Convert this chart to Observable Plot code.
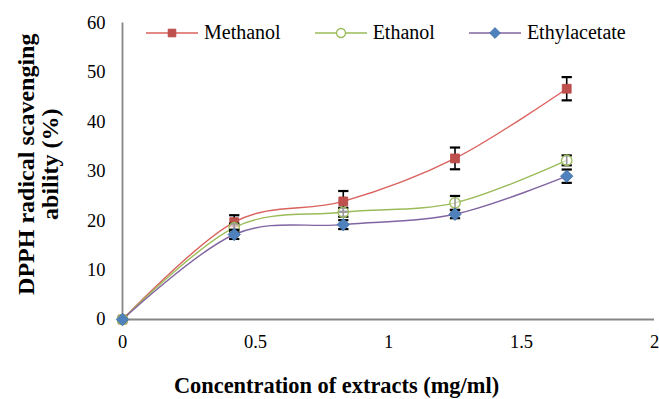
<!DOCTYPE html>
<html>
<head>
<meta charset="utf-8">
<script src="https://cdn.jsdelivr.net/npm/d3@7"></script>
<script src="https://cdn.jsdelivr.net/npm/@observablehq/plot@0.6"></script>
<style>
  html, body { margin: 0; padding: 0; background: #fff; }
  #wrap { position: relative; width: 659px; height: 399px; font-family: "Liberation Serif", "Times New Roman", serif; }
  #wrap svg text, #wrap svg g { font-family: "Liberation Serif", "Times New Roman", serif !important; }
  #legend { position: absolute; left: 146px; top: 21px; display: flex; align-items: center; font-size: 20px; color: #000; }
  .item { display: flex; align-items: center; margin-right: 34px; }
  .item svg { margin-right: 6px; }
</style>
</head>
<body>
<div id="wrap"><div id="legend"></div></div>
<script>
const concentrations = [0, 0.42, 0.83, 1.25, 1.67];
const seriesNames = ["Methanol", "Ethanol", "Ethylacetate"];
const methanol = [0, 19.7, 23.9, 32.6, 46.7];
const methanolErr = [0, 1.4, 2.1, 2.2, 2.35];
const ethanol = [0, 18.6, 21.7, 23.6, 32.2];
const ethanolErr = [0, 0.8, 0.9, 1.4, 1.0];
const ethylacetate = [0, 17.2, 19.2, 21.3, 29.0];
const ethylacetateErr = [0, 0.9, 0.9, 0.8, 1.35];
const xTicks = [0, 0.5, 1, 1.5, 2];
const yTicks = [0, 10, 20, 30, 40, 50, 60];

const serif = "'Liberation Serif', 'Times New Roman', serif";
const styles = {
  Methanol: {line: "#D9625E", stroke: "#B5443F", fill: "#C0504D", symbol: "square", r: 5},
  Ethanol: {line: "#9BBB59", stroke: "#9BBB59", fill: "rgba(255,255,255,0.6)", symbol: "circle", r: 5.2},
  Ethylacetate: {line: "#8064A2", stroke: "#3F6FA8", fill: "#4F81BD", symbol: "diamond2", r: 5.6}
};

const valuesBy = {Methanol: methanol, Ethanol: ethanol, Ethylacetate: ethylacetate};
const errBy = {Methanol: methanolErr, Ethanol: ethanolErr, Ethylacetate: ethylacetateErr};
const rows = seriesNames.flatMap(s => concentrations.map((c, i) => ({
  series: s, x: c, y: valuesBy[s][i], lo: valuesBy[s][i] - errBy[s][i], hi: valuesBy[s][i] + errBy[s][i], err: errBy[s][i]
})));

const capSymbol = {draw(ctx, size) { const w = Math.sqrt(size); ctx.moveTo(-w / 2, 0); ctx.lineTo(w / 2, 0); }};

const marks = [
  Plot.ruleY([0], {stroke: "#868686", strokeWidth: 1.8}),
  Plot.ruleX([0], {stroke: "#868686", strokeWidth: 1.8}),
  Plot.axisX({ticks: xTicks, tickSize: 0, tickPadding: 15, tickFormat: d => String(d), label: null, fontFamily: serif, fontSize: 18.5}),
  Plot.axisY({ticks: yTicks, tickSize: 0, tickPadding: 17, label: null, fontFamily: serif, fontSize: 18.5}),
];
for (const s of seriesNames) {
  const st = styles[s];
  const data = rows.filter(d => d.series === s);
  marks.push(Plot.line(data, {x: "x", y: "y", stroke: st.line, strokeWidth: 1.4, curve: "cardinal"}));
}
for (const s of seriesNames) {
  const st = styles[s];
  const data = rows.filter(d => d.series === s && d.err > 0);
  marks.push(Plot.ruleX(data, {x: "x", y1: "lo", y2: "hi", stroke: "#000", strokeWidth: 1.6}));
  marks.push(Plot.dot(data, {x: "x", y: "lo", symbol: capSymbol, r: 5.8, stroke: "#000", strokeWidth: 2.2, fill: "none"}));
  marks.push(Plot.dot(data, {x: "x", y: "hi", symbol: capSymbol, r: 5.8, stroke: "#000", strokeWidth: 2.2, fill: "none"}));
  marks.push(Plot.dot(rows.filter(d => d.series === s), {x: "x", y: "y", symbol: st.symbol, r: st.r, fill: st.fill, stroke: st.stroke, strokeWidth: s === "Ethanol" ? 1.3 : 0.8}));
}
marks.push(Plot.text(["Concentration of extracts (mg/ml)"], {frameAnchor: "bottom", dx: -52, dy: 66, fontSize: 22.4, fontWeight: "bold", lineAnchor: "middle", textAnchor: "middle", fontFamily: serif}));
marks.push(Plot.text(["DPPH radical scavenging\nability (%)"], {frameAnchor: "left", rotate: -90, dx: -84.5, dy: -7, fontSize: 24, fontWeight: "bold", lineAnchor: "middle", textAnchor: "middle", lineHeight: 1.04, fontFamily: serif}));

const chart = Plot.plot({
  width: 659, height: 399,
  marginLeft: 122, marginRight: 5, marginTop: 22.5, marginBottom: 80,
  x: {domain: [0, 2]},
  y: {domain: [0, 60]},
  style: {fontFamily: serif, fontSize: "19px", color: "#000", background: "#fff", overflow: "visible"},
  marks
});
document.getElementById("wrap").prepend(chart);

// legend
const legend = document.getElementById("legend");
for (const s of seriesNames) {
  const st = styles[s];
  const item = document.createElement("div");
  item.className = "item";
  const svg = d3.create("svg").attr("width", 52).attr("height", 20);
  svg.append("line").attr("x1", 0).attr("x2", 52).attr("y1", 10).attr("y2", 10).attr("stroke", st.line).attr("stroke-width", 1.4);
  const sym = {square: d3.symbolSquare, circle: d3.symbolCircle, diamond2: d3.symbolDiamond2}[st.symbol];
  svg.append("path").attr("d", d3.symbol(sym, Math.PI * st.r * st.r * 0.75)()).attr("transform", "translate(26,10)")
    .attr("fill", s === "Ethanol" ? "#fff" : st.fill).attr("stroke", st.stroke).attr("stroke-width", s === "Ethanol" ? 1.3 : 0.8);
  item.appendChild(svg.node());
  const label = document.createElement("span");
  label.textContent = s;
  item.appendChild(label);
  legend.appendChild(item);
}
</script>
</body>
</html>
